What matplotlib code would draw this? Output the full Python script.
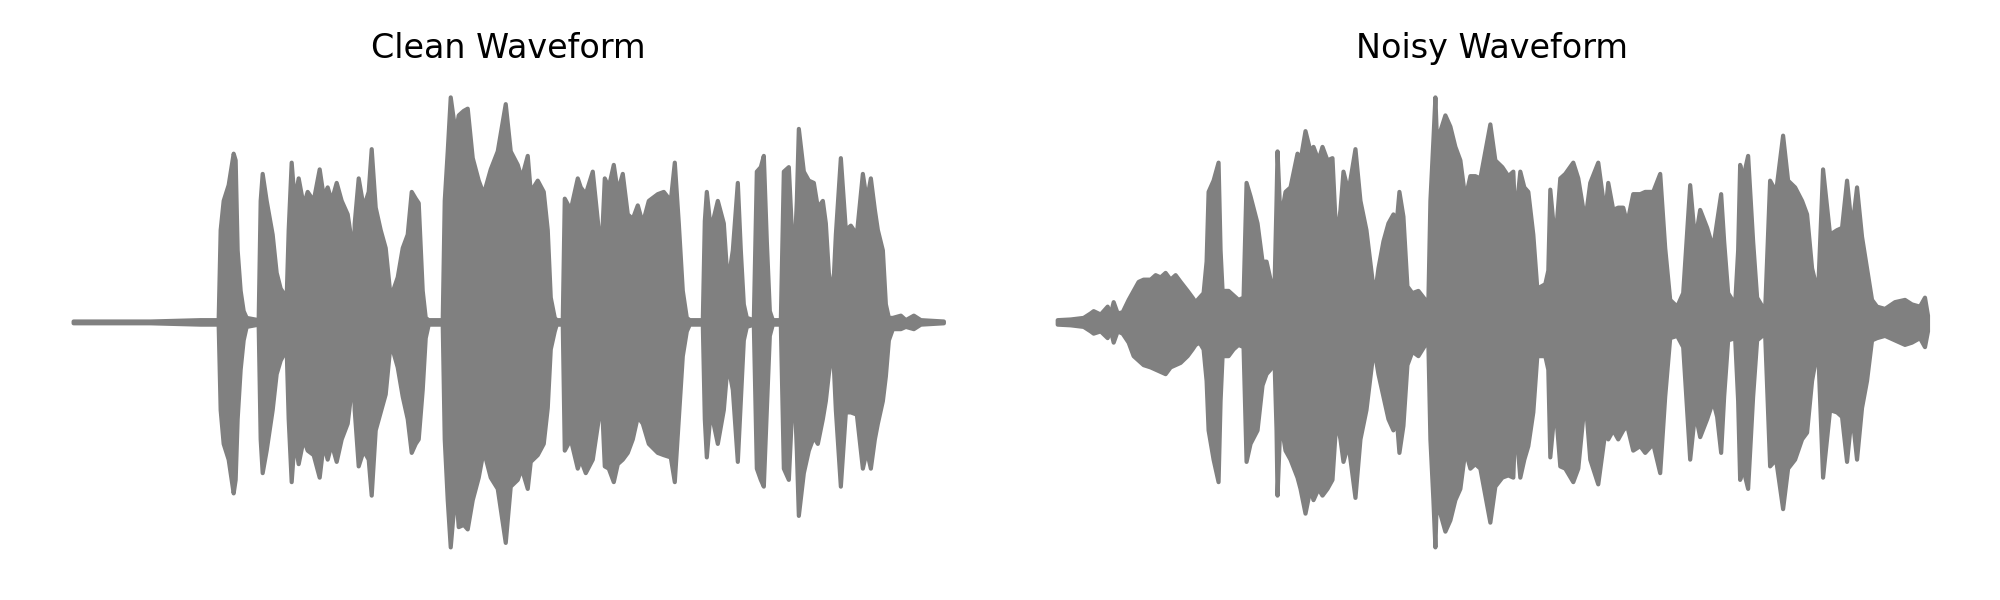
import matplotlib
matplotlib.use("Agg")
import matplotlib.pyplot as plt
import numpy as np

# envelope of each waveform: time (s), upper and lower amplitude
clean_t = [0.000, 0.308, 0.508, 0.580, 0.588, 0.600, 0.620, 0.640, 0.648, 0.656, 0.668, 0.680, 0.692, 0.740,
           0.748, 0.756, 0.772, 0.796, 0.812, 0.828, 0.852, 0.860, 0.872, 0.884, 0.900, 0.920, 0.936, 0.960,
           0.984, 1.000, 1.016, 1.032, 1.052, 1.072, 1.096, 1.112, 1.118, 1.124, 1.140, 1.160, 1.180, 1.192,
           1.208, 1.228, 1.248, 1.268, 1.296, 1.316, 1.336, 1.352, 1.368, 1.380, 1.396, 1.408, 1.420, 1.476,
           1.484, 1.496, 1.508, 1.528, 1.540, 1.560, 1.576, 1.596, 1.620, 1.640, 1.668, 1.696, 1.728, 1.748,
           1.776, 1.792, 1.816, 1.828, 1.856, 1.880, 1.896, 1.908, 1.924, 1.932, 1.956, 1.964, 1.988, 2.016,
           2.028, 2.048, 2.076, 2.100, 2.108, 2.124, 2.140, 2.160, 2.176, 2.196, 2.216, 2.236, 2.256, 2.276,
           2.300, 2.336, 2.360, 2.388, 2.404, 2.420, 2.436, 2.452, 2.464, 2.516, 2.524, 2.532, 2.548, 2.576,
           2.600, 2.616, 2.636, 2.656, 2.668, 2.680, 2.692, 2.720, 2.732, 2.748, 2.760, 2.772, 2.784, 2.796,
           2.828, 2.840, 2.860, 2.880, 2.892, 2.900, 2.920, 2.940, 2.960, 2.976, 2.996, 3.008, 3.020, 3.036,
           3.048, 3.068, 3.088, 3.108, 3.132, 3.156, 3.172, 3.188, 3.204, 3.216, 3.236, 3.248, 3.260, 3.276,
           3.308, 3.328, 3.360, 3.388, 3.480]
clean_hi = [0.004, 0.004, 0.01, 0.01, 0.41, 0.54, 0.61, 0.75, 0.72, 0.32, 0.14, 0.05, 0.02, 0.01,
            0.54, 0.66, 0.54, 0.39, 0.22, 0.15, 0.11, 0.41, 0.71, 0.54, 0.64, 0.52, 0.58, 0.54,
            0.68, 0.56, 0.60, 0.54, 0.62, 0.54, 0.48, 0.36, 0.14, 0.44, 0.64, 0.51, 0.58, 0.77,
            0.51, 0.41, 0.33, 0.11, 0.20, 0.33, 0.39, 0.58, 0.55, 0.53, 0.14, 0.02, 0.01, 0.01,
            0.54, 0.76, 1.00, 0.84, 0.92, 0.94, 0.95, 0.73, 0.63, 0.57, 0.68, 0.76, 0.97, 0.76,
            0.70, 0.64, 0.74, 0.58, 0.63, 0.58, 0.41, 0.11, 0.02, 0.01, 0.01, 0.55, 0.50, 0.64,
            0.60, 0.57, 0.67, 0.41, 0.24, 0.64, 0.60, 0.70, 0.58, 0.66, 0.48, 0.46, 0.52, 0.44,
            0.54, 0.57, 0.58, 0.54, 0.71, 0.44, 0.14, 0.02, 0.01, 0.01, 0.45, 0.58, 0.41, 0.54,
            0.44, 0.17, 0.32, 0.62, 0.32, 0.08, 0.02, 0.01, 0.67, 0.69, 0.74, 0.36, 0.05, 0.01,
            0.01, 0.67, 0.69, 0.23, 0.54, 0.86, 0.67, 0.63, 0.62, 0.51, 0.54, 0.44, 0.22, 0.11,
            0.39, 0.73, 0.41, 0.43, 0.39, 0.66, 0.54, 0.64, 0.50, 0.41, 0.32, 0.08, 0.02, 0.02,
            0.03, 0.01, 0.03, 0.01, 0.004]
clean_lo = [-0.004, -0.004, -0.01, -0.01, -0.39, -0.54, -0.61, -0.76, -0.70, -0.43, -0.21, -0.08, -0.02, -0.01,
            -0.52, -0.67, -0.57, -0.39, -0.23, -0.17, -0.12, -0.43, -0.71, -0.52, -0.63, -0.52, -0.57, -0.59,
            -0.69, -0.54, -0.61, -0.54, -0.62, -0.52, -0.45, -0.30, -0.15, -0.39, -0.64, -0.57, -0.61, -0.77,
            -0.48, -0.40, -0.32, -0.09, -0.20, -0.33, -0.43, -0.58, -0.54, -0.52, -0.30, -0.07, -0.01, -0.01,
            -0.52, -0.79, -1.00, -0.74, -0.91, -0.90, -0.92, -0.79, -0.69, -0.57, -0.69, -0.74, -0.98, -0.73,
            -0.70, -0.65, -0.74, -0.62, -0.59, -0.54, -0.38, -0.12, -0.04, -0.01, -0.01, -0.57, -0.52, -0.65,
            -0.61, -0.67, -0.61, -0.43, -0.24, -0.64, -0.65, -0.71, -0.63, -0.61, -0.58, -0.52, -0.42, -0.45,
            -0.54, -0.58, -0.59, -0.60, -0.71, -0.43, -0.15, -0.04, -0.01, -0.01, -0.43, -0.60, -0.39, -0.54,
            -0.39, -0.18, -0.30, -0.62, -0.35, -0.08, -0.02, -0.01, -0.65, -0.70, -0.73, -0.39, -0.06, -0.01,
            -0.01, -0.65, -0.70, -0.23, -0.57, -0.86, -0.67, -0.57, -0.51, -0.54, -0.43, -0.35, -0.23, -0.10,
            -0.39, -0.73, -0.40, -0.40, -0.41, -0.65, -0.57, -0.65, -0.52, -0.45, -0.35, -0.24, -0.08, -0.03,
            -0.03, -0.02, -0.03, -0.01, -0.004]

noisy_t = [0.000, 0.052, 0.104, 0.132, 0.144, 0.172, 0.200, 0.212, 0.224, 0.240, 0.260, 0.284, 0.304, 0.324,
           0.344, 0.372, 0.392, 0.412, 0.432, 0.452, 0.472, 0.492, 0.520, 0.540, 0.552, 0.568, 0.584, 0.596,
           0.604, 0.624, 0.644, 0.652, 0.660, 0.684, 0.704, 0.724, 0.744, 0.756, 0.772, 0.800, 0.820, 0.836,
           0.852, 0.868, 0.876, 0.880, 0.892, 0.912, 0.932, 0.960, 0.972, 0.992, 1.012, 1.024, 1.044, 1.060,
           1.080, 1.100, 1.116, 1.132, 1.144, 1.164, 1.192, 1.212, 1.236, 1.260, 1.272, 1.284, 1.304, 1.324,
           1.344, 1.356, 1.368, 1.384, 1.400, 1.420, 1.444, 1.472, 1.484, 1.492, 1.504, 1.512, 1.520, 1.532,
           1.552, 1.572, 1.592, 1.612, 1.632, 1.652, 1.672, 1.692, 1.712, 1.732, 1.752, 1.780, 1.804, 1.824,
           1.832, 1.852, 1.868, 1.884, 1.904, 1.920, 1.952, 1.964, 1.972, 1.992, 2.012, 2.032, 2.064, 2.084,
           2.112, 2.132, 2.164, 2.192, 2.204, 2.224, 2.244, 2.264, 2.280, 2.304, 2.332, 2.352, 2.384, 2.412,
           2.432, 2.452, 2.480, 2.504, 2.532, 2.552, 2.572, 2.600, 2.624, 2.640, 2.656, 2.668, 2.684, 2.712,
           2.724, 2.732, 2.744, 2.764, 2.784, 2.800, 2.832, 2.852, 2.876, 2.904, 2.924, 2.952, 2.980, 3.000,
           3.020, 3.044, 3.064, 3.092, 3.120, 3.140, 3.160, 3.180, 3.200, 3.220, 3.240, 3.260, 3.280, 3.312,
           3.352, 3.392, 3.420, 3.452, 3.472, 3.484]
noisy_hi = [0.01, 0.013, 0.02, 0.04, 0.05, 0.035, 0.07, 0.035, 0.09, 0.04, 0.045, 0.10, 0.14, 0.18,
            0.19, 0.19, 0.21, 0.20, 0.22, 0.19, 0.21, 0.18, 0.14, 0.11, 0.09, 0.11, 0.13, 0.27,
            0.58, 0.63, 0.71, 0.32, 0.14, 0.14, 0.12, 0.10, 0.11, 0.62, 0.56, 0.44, 0.27, 0.27,
            0.19, 0.16, 0.54, 0.76, 0.45, 0.58, 0.60, 0.75, 0.72, 0.85, 0.76, 0.78, 0.72, 0.78,
            0.72, 0.73, 0.36, 0.50, 0.67, 0.58, 0.77, 0.54, 0.41, 0.19, 0.14, 0.24, 0.36, 0.44,
            0.48, 0.43, 0.58, 0.47, 0.16, 0.13, 0.14, 0.10, 0.10, 0.54, 0.81, 1.00, 0.76, 0.85,
            0.92, 0.87, 0.78, 0.72, 0.55, 0.65, 0.65, 0.64, 0.76, 0.88, 0.72, 0.69, 0.65, 0.67,
            0.45, 0.67, 0.60, 0.58, 0.39, 0.15, 0.17, 0.23, 0.59, 0.35, 0.64, 0.66, 0.71, 0.64,
            0.45, 0.62, 0.71, 0.48, 0.62, 0.50, 0.51, 0.51, 0.44, 0.57, 0.57, 0.58, 0.58, 0.66,
            0.33, 0.10, 0.07, 0.13, 0.61, 0.36, 0.50, 0.42, 0.33, 0.45, 0.57, 0.36, 0.13, 0.08,
            0.32, 0.70, 0.64, 0.74, 0.36, 0.11, 0.05, 0.63, 0.58, 0.83, 0.63, 0.60, 0.54, 0.48,
            0.24, 0.13, 0.68, 0.39, 0.41, 0.42, 0.63, 0.41, 0.60, 0.38, 0.24, 0.10, 0.07, 0.06,
            0.09, 0.10, 0.08, 0.07, 0.11, 0.03]
noisy_lo = [-0.01, -0.013, -0.02, -0.04, -0.05, -0.04, -0.07, -0.035, -0.09, -0.04, -0.05, -0.09, -0.15, -0.17,
            -0.19, -0.20, -0.21, -0.22, -0.23, -0.20, -0.19, -0.18, -0.15, -0.12, -0.10, -0.09, -0.12, -0.26,
            -0.48, -0.61, -0.71, -0.35, -0.15, -0.15, -0.12, -0.10, -0.11, -0.62, -0.54, -0.48, -0.28, -0.23,
            -0.21, -0.17, -0.48, -0.77, -0.43, -0.57, -0.61, -0.69, -0.74, -0.85, -0.74, -0.79, -0.74, -0.77,
            -0.74, -0.70, -0.43, -0.52, -0.62, -0.54, -0.78, -0.52, -0.39, -0.17, -0.15, -0.23, -0.33, -0.43,
            -0.48, -0.41, -0.58, -0.46, -0.19, -0.13, -0.15, -0.10, -0.10, -0.52, -0.79, -1.00, -0.70, -0.85,
            -0.93, -0.88, -0.79, -0.74, -0.57, -0.65, -0.63, -0.65, -0.77, -0.89, -0.73, -0.69, -0.68, -0.69,
            -0.43, -0.69, -0.61, -0.55, -0.40, -0.15, -0.15, -0.21, -0.60, -0.36, -0.64, -0.65, -0.71, -0.65,
            -0.33, -0.61, -0.72, -0.49, -0.52, -0.48, -0.52, -0.48, -0.46, -0.57, -0.55, -0.58, -0.54, -0.67,
            -0.33, -0.07, -0.06, -0.11, -0.61, -0.40, -0.51, -0.43, -0.35, -0.42, -0.58, -0.33, -0.08, -0.07,
            -0.35, -0.70, -0.65, -0.74, -0.33, -0.08, -0.05, -0.64, -0.61, -0.83, -0.65, -0.61, -0.52, -0.49,
            -0.26, -0.11, -0.69, -0.39, -0.40, -0.42, -0.62, -0.40, -0.61, -0.38, -0.26, -0.08, -0.07, -0.06,
            -0.08, -0.10, -0.09, -0.07, -0.11, -0.04]

panels = [("Clean Waveform", clean_t, clean_hi, clean_lo),
          ("Noisy Waveform", noisy_t, noisy_hi, noisy_lo)]

fig, axes = plt.subplots(1, 2, figsize=(10, 3), dpi=200)
fig.subplots_adjust(left=0.0148, right=0.9855, bottom=0.051, top=0.876, wspace=0.028)

for ax, (title, t, hi, lo) in zip(axes, panels):
    t = np.array(t)
    ax.fill_between(t, np.array(lo), np.array(hi), color='gray', lw=1.5)
    ax.set_title(title, fontsize=12)
    ax.axis('off')

plt.savefig("out.png", dpi=200)
